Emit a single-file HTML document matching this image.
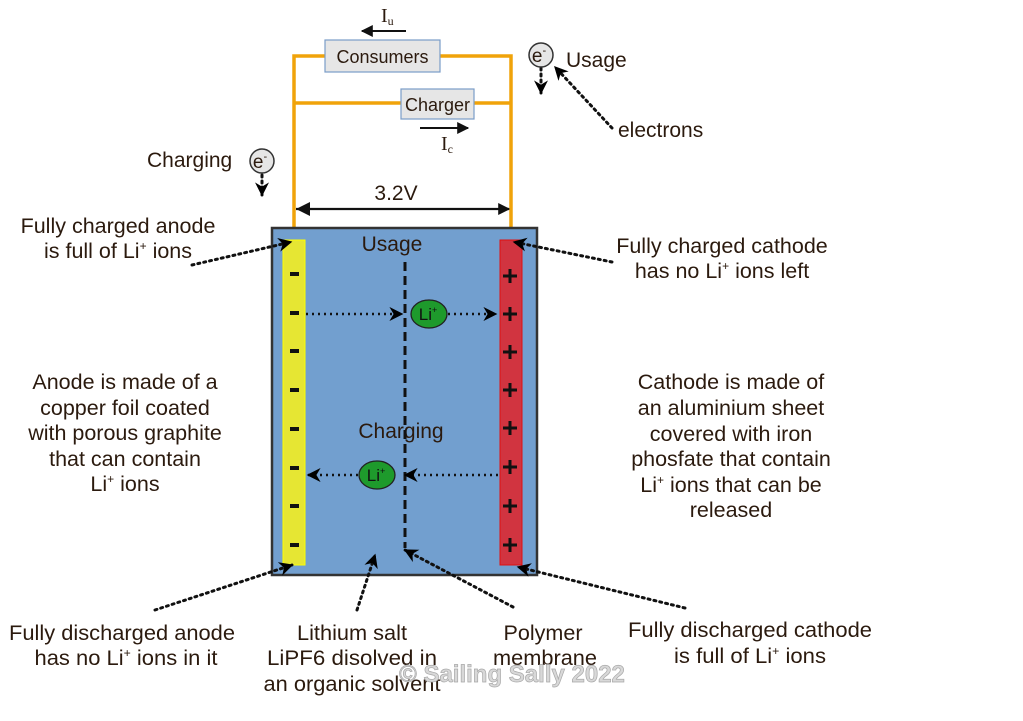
<!DOCTYPE html>
<html><head><meta charset="utf-8"><style>
html,body{margin:0;padding:0;background:#fff;width:1023px;height:721px;overflow:hidden}
svg{display:block}
text{font-family:"Liberation Sans",sans-serif;fill:#2b1a0e}
</style></head><body>
<svg width="1023" height="721" viewBox="0 0 1023 721" xmlns="http://www.w3.org/2000/svg">
<defs>
<marker id="ah" viewBox="0 0 10 10" refX="9" refY="5" markerWidth="14" markerHeight="14" markerUnits="userSpaceOnUse" orient="auto">
<path d="M0,0 L10,5 L0,10 L3,5 Z" fill="#000"/></marker>
<marker id="ar" viewBox="0 0 10 10" refX="9" refY="5" markerWidth="12" markerHeight="12" markerUnits="userSpaceOnUse" orient="auto">
<path d="M0,0 L10,5 L0,10 Z" fill="#111"/></marker>
</defs>
<g stroke="#f0a30a" stroke-width="3.5" fill="none">
<polyline points="294,240 294,56 511,56 511,240"/>
<line x1="294" y1="103" x2="511" y2="103"/>
</g>
<rect x="325" y="40" width="115" height="32" fill="#e6e6e6" stroke="#7a9cc8" stroke-width="1.2"/>
<text x="382.5" y="63" text-anchor="middle" font-size="18">Consumers</text>
<rect x="401" y="89" width="73" height="30" fill="#e6e6e6" stroke="#7a9cc8" stroke-width="1.2"/>
<text x="437.5" y="111" text-anchor="middle" font-size="18">Charger</text>
<line x1="406" y1="31" x2="362" y2="31" stroke="#111" stroke-width="2" marker-end="url(#ar)"/>
<text x="381" y="22" font-size="20" style="font-family:'Liberation Serif',serif">I<tspan font-size="12" dy="3">u</tspan></text>
<line x1="420" y1="128" x2="468" y2="128" stroke="#111" stroke-width="2" marker-end="url(#ar)"/>
<text x="441" y="150" font-size="20" style="font-family:'Liberation Serif',serif">I<tspan font-size="12" dy="3">c</tspan></text>
<line x1="296" y1="209" x2="509" y2="209" stroke="#111" stroke-width="2.2" marker-end="url(#ar)"/>
<path d="M296,209 l14,-7 v14 z" fill="#111"/>
<text x="396" y="200" text-anchor="middle" font-size="21">3.2V</text>
<rect x="272" y="228" width="265" height="347" fill="#729fcf" stroke="#333" stroke-width="2.5"/>
<rect x="283" y="240" width="22" height="325" fill="#e6e633" stroke="#ffff00" stroke-width="1"/>
<rect x="500" y="240" width="22" height="325" fill="#d13440" stroke="#e01010" stroke-width="1"/>
<g fill="#111">
<rect x="290" y="272" width="9" height="4"/><rect x="290" y="311" width="9" height="4"/><rect x="290" y="349" width="9" height="4"/><rect x="290" y="388" width="9" height="4"/><rect x="290" y="427" width="9" height="4"/><rect x="290" y="466" width="9" height="4"/><rect x="290" y="504" width="9" height="4"/><rect x="290" y="543" width="9" height="4"/>
</g>
<g stroke="#111" stroke-width="3">
<path d="M503,276h14M510,269v14 M503,314h14M510,307v14 M503,352h14M510,345v14 M503,390h14M510,383v14 M503,428h14M510,421v14 M503,467h14M510,460v14 M503,506h14M510,499v14 M503,545h14M510,538v14"/>
</g>
<text x="392" y="251" text-anchor="middle" font-size="21">Usage</text>
<text x="401" y="438" text-anchor="middle" font-size="21">Charging</text>
<line x1="405" y1="262" x2="405" y2="548" stroke="#111" stroke-width="3" stroke-dasharray="9,5"/>
<g stroke="#111" stroke-width="2.5" stroke-dasharray="2,4" fill="none">
<line x1="306" y1="314" x2="402" y2="314" marker-end="url(#ah)"/>
<line x1="448" y1="314" x2="496" y2="314" marker-end="url(#ah)"/>
<line x1="498" y1="475" x2="405" y2="475" marker-end="url(#ah)"/>
<line x1="358" y1="475" x2="308" y2="475" marker-end="url(#ah)"/>
</g>
<ellipse cx="429" cy="314" rx="18" ry="14" fill="#1e9a2c" stroke="#222" stroke-width="1.3"/>
<text x="428" y="320" text-anchor="middle" font-size="17" style="fill:#111">Li<tspan font-size="9" dy="-7">+</tspan></text>
<ellipse cx="377" cy="475" rx="18" ry="14" fill="#1e9a2c" stroke="#222" stroke-width="1.3"/>
<text x="376" y="481" text-anchor="middle" font-size="17" style="fill:#111">Li<tspan font-size="9" dy="-7">+</tspan></text>
<g stroke="#111" stroke-width="3" stroke-dasharray="2,4" stroke-linecap="round" fill="none">
<line x1="192" y1="265" x2="291" y2="242" marker-end="url(#ah)"/>
<line x1="612" y1="262" x2="514" y2="242" marker-end="url(#ah)"/>
<line x1="155" y1="610" x2="292" y2="565" marker-end="url(#ah)"/>
<line x1="685" y1="608" x2="518" y2="567" marker-end="url(#ah)"/>
<line x1="357" y1="610" x2="375" y2="555" marker-end="url(#ah)"/>
<line x1="513" y1="607" x2="405" y2="550" marker-end="url(#ah)"/>
<line x1="612" y1="128" x2="555" y2="67" marker-end="url(#ah)"/>
<line x1="262" y1="175" x2="262" y2="195" marker-end="url(#ah)"/>
<line x1="541" y1="68" x2="541" y2="93" marker-end="url(#ah)"/>
</g>
<circle cx="541" cy="55" r="12" fill="#e6e6e6" stroke="#333" stroke-width="1.5"/>
<text x="539" y="62" text-anchor="middle" font-size="19">e<tspan font-size="11" dy="-8">-</tspan></text>
<circle cx="262" cy="161" r="12" fill="#e6e6e6" stroke="#333" stroke-width="1.5"/>
<text x="260" y="168" text-anchor="middle" font-size="19">e<tspan font-size="11" dy="-8">-</tspan></text>
<text x="566" y="67" font-size="21">Usage</text>
<text x="618" y="137" font-size="21">electrons</text>
<text x="147" y="167" font-size="21">Charging</text>
<g text-anchor="middle" font-size="21.5">
<text x="118" y="233">Fully charged anode</text>
<text x="118" y="258">is full of Li<tspan font-size="12" dy="-8">+</tspan><tspan dy="8"> ions</tspan></text>
<text x="125" y="389">Anode is made of a</text>
<text x="125" y="415">copper foil coated</text>
<text x="125" y="440">with porous graphite</text>
<text x="125" y="466">that can contain</text>
<text x="125" y="491">Li<tspan font-size="12" dy="-8">+</tspan><tspan dy="8"> ions</tspan></text>
<text x="722" y="253">Fully charged cathode</text>
<text x="722" y="278">has no Li<tspan font-size="12" dy="-8">+</tspan><tspan dy="8"> ions left</tspan></text>
<text x="731" y="389">Cathode is made of</text>
<text x="731" y="415">an aluminium sheet</text>
<text x="731" y="441">covered with iron</text>
<text x="731" y="466">phosfate that contain</text>
<text x="731" y="492">Li<tspan font-size="12" dy="-8">+</tspan><tspan dy="8"> ions that can be</tspan></text>
<text x="731" y="517">released</text>
</g>
<g text-anchor="middle" font-size="21.5">
<text x="122" y="640" textLength="226" lengthAdjust="spacingAndGlyphs">Fully discharged anode</text>
<text x="126" y="665" textLength="183" lengthAdjust="spacingAndGlyphs">has no Li<tspan font-size="12" dy="-8">+</tspan><tspan dy="8"> ions in it</tspan></text>
<text x="352" y="640" textLength="110" lengthAdjust="spacingAndGlyphs">Lithium salt</text>
<text x="352" y="665" textLength="170" lengthAdjust="spacingAndGlyphs">LiPF6 disolved in</text>
<text x="352" y="691" textLength="177" lengthAdjust="spacingAndGlyphs">an organic solvent</text>
<text x="543" y="640" textLength="79" lengthAdjust="spacingAndGlyphs">Polymer</text>
<text x="545" y="665" textLength="104" lengthAdjust="spacingAndGlyphs">membrane</text>
<text x="750" y="637" textLength="244" lengthAdjust="spacingAndGlyphs">Fully discharged cathode</text>
<text x="750" y="663" textLength="152" lengthAdjust="spacingAndGlyphs">is full of Li<tspan font-size="12" dy="-8">+</tspan><tspan dy="8"> ions</tspan></text>
</g>
<text x="512" y="682" text-anchor="middle" font-size="24" font-weight="bold" style="fill:#d8d8d8;stroke:#a8a8a8;stroke-width:0.7">© Sailing Sally 2022</text>
</svg>
</body></html>
